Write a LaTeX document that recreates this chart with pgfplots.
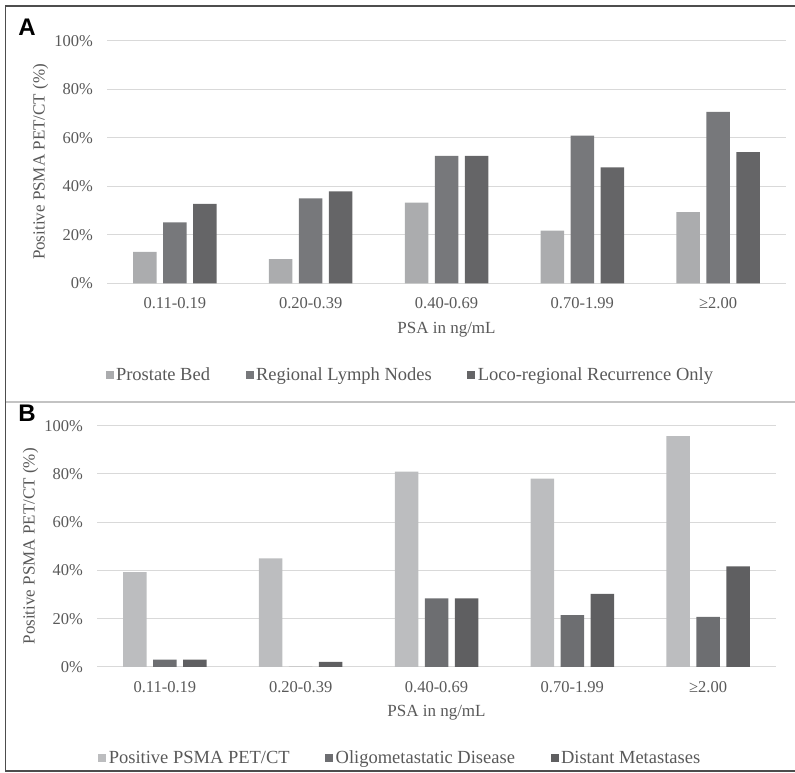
\documentclass[border=0pt]{standalone}
\usepackage{fontspec}
\setmainfont{Liberation Serif}
\newfontfamily\letterfont{Liberation Sans}
\usepackage{pgfplots}
\pgfplotsset{compat=1.18}
\definecolor{cA1}{HTML}{ABACAE}
\definecolor{cA2}{HTML}{77787B}
\definecolor{cA3}{HTML}{656567}
\definecolor{cB1}{HTML}{BCBDBF}
\definecolor{cB2}{HTML}{6D6E71}
\definecolor{cB3}{HTML}{5F5F61}
\definecolor{gridgray}{HTML}{D9D9D9}
\definecolor{textgray}{HTML}{595959}
\definecolor{framegray}{HTML}{4D4D4D}
\pgfplotsset{
  mybars/.style={
    ybar=6.5pt, bar width=23.5pt,
    scale only axis, width=679pt,
    xmin=-0.5, xmax=4.5, ymin=0, ymax=100,
    enlargelimits=false,
    xtick={0,1,2,3,4},
    xticklabels={0.11-0.19,0.20-0.39,0.40-0.69,0.70-1.99,≥2.00},
    ytick={0,20,40,60,80,100},
    yticklabels={0\%,20\%,40\%,60\%,80\%,100\%},
    major tick length=0pt,
    axis line style={draw=none},
    ymajorgrids, grid style={color=gridgray, line width=1pt},
    xticklabel style={font=\fontsize{16.5}{18}\selectfont, text=textgray, anchor=center, yshift=-20pt},
    yticklabel style={font=\fontsize{16.5}{18}\selectfont, text=textgray, anchor=east, inner sep=0pt, xshift=-14pt},
    every axis y label/.style={at={(axis description cs:-0.098,0.5)}, rotate=90, anchor=center, font=\fontsize{17}{19}\selectfont, text=textgray},
    every axis x label/.style={at={(axis description cs:0.5,-0.19)}, anchor=center, font=\fontsize{17}{19}\selectfont, text=textgray},
    xlabel={PSA in ng/mL},
    ylabel={Positive PSMA PET/CT (\%)},
    legend image code/.code={\draw[#1,draw=none] (0pt,-4pt) rectangle (8pt,4pt);},
    legend style={draw=none, fill=none, legend columns=3, anchor=center,
      font=\fontsize{18.5}{20}\selectfont, text=textgray,
      /tikz/every even column/.append style={column sep=33pt},
      nodes={inner sep=2.5pt}},
    legend cell align=left,
  }
}
\begin{document}
\begin{tikzpicture}[x=1pt,y=1pt]
\useasboundingbox (0,0) rectangle (795,773);
\draw[framegray, line width=1.6pt] (795,767) -- (5.5,767) -- (5.5,2) -- (795,2);
\draw[gridgray!90!black, line width=2pt] (6,371) -- (795,371);
\node[font=\letterfont\bfseries\fontsize{24}{24}\selectfont, inner sep=0pt] at (27,746) {A};
\node[font=\letterfont\bfseries\fontsize{24}{24}\selectfont, inner sep=0pt] at (27,360) {B};

\begin{axis}[mybars, at={(107pt,489.7pt)}, anchor=south west, height=242.6pt,
  legend style={at={(axis description cs:0.447,-0.378)}}]
\addplot[fill=cA1, draw=none] coordinates {(0,13.0) (1,10.0) (2,33.2) (3,21.7) (4,29.3)};
\addplot[fill=cA2, draw=none] coordinates {(0,25.1) (1,35.0) (2,52.5) (3,60.9) (4,70.7)};
\addplot[fill=cA3, draw=none] coordinates {(0,32.7) (1,37.9) (2,52.5) (3,47.8) (4,54.1)};
\legend{Prostate Bed, Regional Lymph Nodes, Loco-regional Recurrence Only}
\end{axis}

\begin{axis}[mybars, at={(97pt,106.1pt)}, anchor=south west, height=241.2pt,
  legend style={at={(axis description cs:0.447,-0.378)}}]
\addplot[fill=cB1, draw=none] coordinates {(0,39.3) (1,45.0) (2,81.0) (3,78.1) (4,95.7)};
\addplot[fill=cB2, draw=none] coordinates {(0,3.0) (1,0) (2,28.4) (3,21.5) (4,20.7)};
\addplot[fill=cB3, draw=none] coordinates {(0,3.0) (1,2.1) (2,28.4) (3,30.3) (4,41.7)};
\legend{Positive PSMA PET/CT, Oligometastatic Disease, Distant Metastases}
\end{axis}
\end{tikzpicture}
\end{document}
